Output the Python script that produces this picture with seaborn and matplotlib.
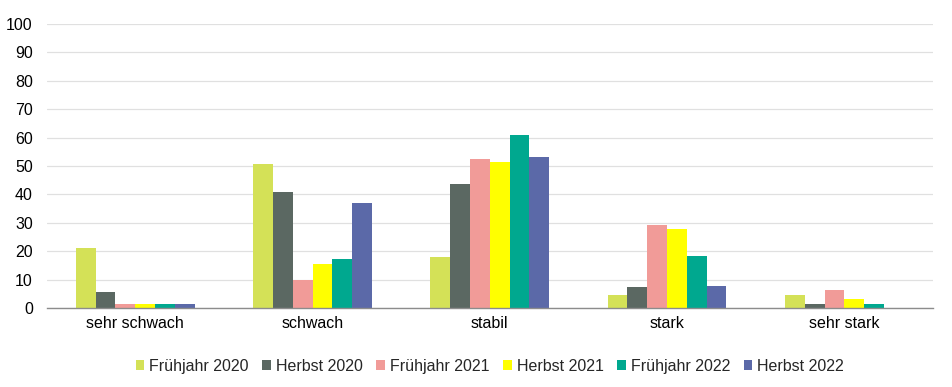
import numpy as np
import pandas as pd
import matplotlib.pyplot as plt
import seaborn as sns

CATEGORIES = ['sehr schwach', 'schwach', 'stabil', 'stark', 'sehr stark']
SERIES = ['Frühjahr 2020', 'Herbst 2020', 'Frühjahr 2021',
          'Herbst 2021', 'Frühjahr 2022', 'Herbst 2022']

fruehjahr_2020 = [21.2, 50.7, 17.9, 4.7, 4.7]
herbst_2020 = [5.8, 40.8, 43.8, 7.5, 1.4]
fruehjahr_2021 = [1.5, 9.7, 52.3, 29.4, 6.4]
herbst_2021 = [1.5, 15.6, 51.5, 27.7, 3.1]
fruehjahr_2022 = [1.5, 17.2, 60.8, 18.4, 1.4]
herbst_2022 = [1.5, 37.0, 53.2, 7.7, 0.0]

COLORS = ['#d4e157', '#5b6862', '#f19b98', '#ffff00', '#00a88f', '#5b69a8']


def main():
    values = [fruehjahr_2020, herbst_2020, fruehjahr_2021,
              herbst_2021, fruehjahr_2022, herbst_2022]
    rows = []
    for s, vals in zip(SERIES, values):
        for c, v in zip(CATEGORIES, vals):
            rows.append({'Kategorie': c, 'Serie': s, 'Wert': v})
    df = pd.DataFrame(rows)

    sns.set_style('white')
    plt.rcParams['font.family'] = ['Liberation Sans', 'DejaVu Sans']

    fig = plt.figure(figsize=(9.52, 3.87), dpi=100)
    ax = fig.add_axes([0.049, 0.204, 0.931, 0.734])

    sns.barplot(data=df, x='Kategorie', y='Wert', hue='Serie',
                order=CATEGORIES, hue_order=SERIES, palette=COLORS,
                width=0.67, gap=0, saturation=1, linewidth=0, ax=ax)

    ax.set_ylim(0, 100)
    ax.set_yticks(np.arange(0, 101, 10))
    ax.set_xlim(-0.5, len(CATEGORIES) - 0.5)
    ax.yaxis.grid(True, color='#e0e0e0', linewidth=0.9)
    ax.set_axisbelow(True)
    ax.set_xlabel('')
    ax.set_ylabel('')
    for side in ['top', 'right', 'left']:
        ax.spines[side].set_visible(False)
    ax.spines['bottom'].set_color('#8c8c8c')
    ax.spines['bottom'].set_linewidth(1.0)
    ax.tick_params(axis='both', length=0, labelsize=11.5, colors='#000000')
    ax.tick_params(axis='y', pad=10)
    ax.tick_params(axis='x', pad=6)

    ax.legend(loc='center', bbox_to_anchor=(0.5, -0.205), ncol=6,
              frameon=False, fontsize=11.5, handlelength=0.55,
              handleheight=0.55, handletextpad=0.3, columnspacing=0.85)

    fig.savefig('out.png', dpi=100)


if __name__ == '__main__':
    main()
